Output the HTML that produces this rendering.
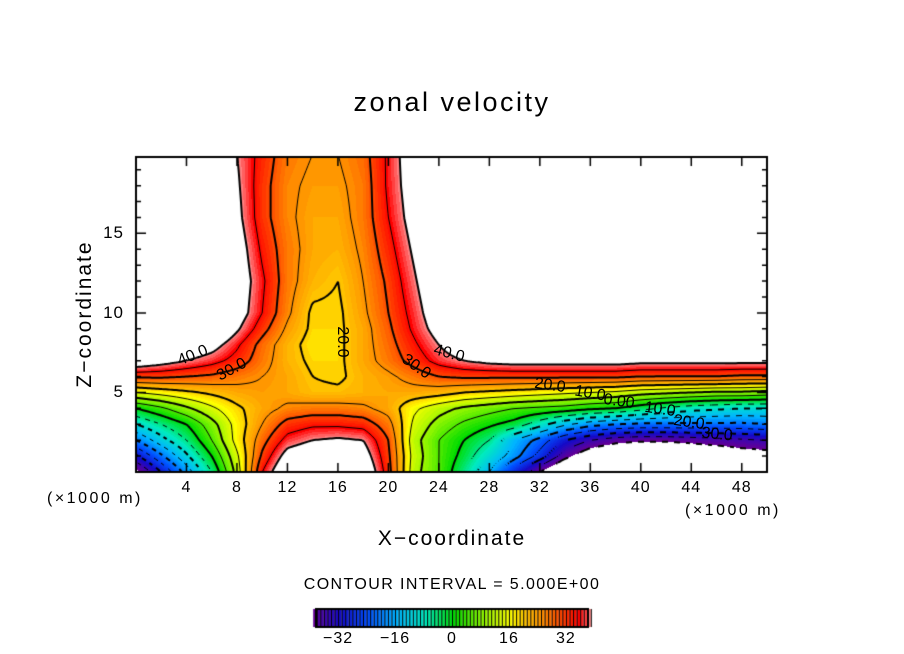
<!DOCTYPE html>
<html><head><meta charset="utf-8">
<style>
html,body{margin:0;padding:0;background:#fff;}
#wrap{position:relative;width:904px;height:654px;overflow:hidden;font-family:"Liberation Sans",sans-serif;color:#000;}
.t{position:absolute;white-space:nowrap;}
canvas{position:absolute;left:0;top:0;}
</style></head><body>
<div id="wrap">
<canvas id="cv" width="904" height="654"></canvas>
<div class="t" style="left:0;width:904px;text-align:center;top:87px;font-size:27px;letter-spacing:2.5px;">zonal velocity</div>
<div class="t" style="left:0;width:904px;text-align:center;top:527px;font-size:21px;letter-spacing:2px;">X−coordinate</div>
<div class="t" style="left:85px;top:314px;font-size:21px;letter-spacing:2px;transform:translate(-50%,-50%) rotate(-90deg);">Z−coordinate</div>
<div class="t" style="left:47px;top:490px;font-size:16px;letter-spacing:2.5px;">(×1000 m)</div>
<div class="t" style="left:685px;top:502px;font-size:16px;letter-spacing:2.5px;">(×1000 m)</div>
<div class="t" style="left:0;width:904px;text-align:center;top:576px;font-size:16px;letter-spacing:1.4px;">CONTOUR INTERVAL = 5.000E+00</div>
<div id="labels"></div>
</div>
<script>
const xs=[0,2,4,6,8,10,12,14,16,18,20,22,24,26,28,30,32,34,36,38,40,42,44,46,48,50];
const zs=[0,1,2,3,4,5,6,7,8,9,10,12,14,16,18,20];
const u_z0=[-42,-30,-18,-5,12,35,48,50,50,48,32,12,5,-5,-15,-28,-40,-50,-52,-52,-52,-52,-52,-50,-47,-45];
const u_z1=[-31,-21,-11,0,14,31,43,46,46,44,31,13,5,-2,-10,-18,-27,-38,-45,-48,-50,-50,-48,-46,-44,-43];
const u_z2=[-20,-12,-5,5,17,28,37,40,41,40,30,12,5,0,-5,-15,-22,-30,-35,-38,-39,-39,-38,-37,-36,-35];
const u_z3=[-10,-5,0,8,17,25,32,34,34,33,27,14,8,4,1,-2,-8,-14,-18,-20,-21,-21,-21,-21,-21,-20];
const u_z4=[0,4,9,14,19,23,26,27,27,26,23,16,12,9,7,5,4,3,1,0,-3,-6,-8,-9,-10,-10];
const u_z5=[15,17,19,21,23,24,23,21,21,22,23,23,22,20,19,18,17,16,15,14,12,11,10,9,9,8];
const u_z6=[31,31,30,29,27,25,23,20,19,22,24,27,30,31,31,31,31,31,31,31,30,30,30,30,29,29];
const u_z7=[46,43,40,37,33,27,22,19,19,23,27,32,37,40,42,43,43,43,43,43,42,42,42,42,42,42];
const u_z8=[55,52,47,43,36,28,22,18,19,23,28,34,40,46,52,55,55,55,55,55,55,55,55,55,55,55];
const u_z9=[55,55,55,50,41,32,24,19,19,23,29,36,43,51,55,55,55,55,55,55,55,55,55,55,55,55];
const u_z10=[55,55,55,55,44,35,26,19,19,24,30,37,45,54,55,55,55,55,55,55,55,55,55,55,55,55];
const u_z12=[55,55,55,55,45,36,27,22,20,25,31,39,47,55,55,55,55,55,55,55,55,55,55,55,55,55];
const u_z14=[55,55,55,55,44,34,27,23,22,26,33,41,49,55,55,55,55,55,55,55,55,55,55,55,55,55];
const u_z16=[55,55,55,55,42,32,26,23,23,27,35,43,51,55,55,55,55,55,55,55,55,55,55,55,55,55];
const u_z18=[55,55,55,55,41,32,26,24,24,27,36,44,52,55,55,55,55,55,55,55,55,55,55,55,55,55];
const u_z20=[55,55,55,55,40,33,27,25,25,28,36,45,52,55,55,55,55,55,55,55,55,55,55,55,55,55];
const rows=[u_z0,u_z1,u_z2,u_z3,u_z4,u_z5,u_z6,u_z7,u_z8,u_z9,u_z10,u_z12,u_z14,u_z16,u_z18,u_z20];
const xTicks=[4,8,12,16,20,24,28,32,36,40,44,48];
const zTicks=[5,10,15];
const cbTicks=[-32,-16,0,16,32];
const contourLabels=[["40.0",4.5,7.3,-22],["30.0",7.6,6.4,-28],["20.0",16.3,8.2,90],["30.0",22.2,6.6,35],["40.0",24.8,7.4,15],["20.0",32.8,5.4,8],["10.0",36,4.9,10],["0.00",38.3,4.4,8],["10.0",41.5,3.9,8],["20.0",43.8,3.1,8],["30.0",46,2.3,6]];

const L=136,T=157,R=767,B=472,X0=0,X1=50,Z0=0,Z1=19.8;
const sx=x=>L+(x-X0)/(X1-X0)*(R-L);
const sz=z=>B-(z-Z0)/(Z1-Z0)*(B-T);
function idx(arr,v){let i=0;while(i<arr.length-2&&v>arr[i+1])i++;return i;}
function field(x,z){
  x=Math.max(0,Math.min(50,x));z=Math.max(0,Math.min(20,z));
  const i=idx(xs,x),j=idx(zs,z);
  const tx=(x-xs[i])/(xs[i+1]-xs[i]),tz=(z-zs[j])/(zs[j+1]-zs[j]);
  const a=rows[j][i],b=rows[j][i+1],c=rows[j+1][i],d=rows[j+1][i+1];
  return (a*(1-tx)+b*tx)*(1-tz)+(c*(1-tx)+d*tx)*tz;
}
const stops=[[-40,[100,0,150]],[-32,[20,10,200]],[-24,[0,80,255]],[-16,[0,180,255]],[-8,[0,235,190]],[0,[0,220,0]],[8,[140,245,0]],[16,[255,255,0]],[20,[255,195,0]],[25,[255,140,0]],[30,[255,70,0]],[35,[255,0,0]],[40,[255,160,160]]];
function col(v){
  if(v<=stops[0][0])return stops[0][1];
  for(let k=0;k<stops.length-1;k++){const a=stops[k],b=stops[k+1];
    if(v<=b[0]){const t=(v-a[0])/(b[0]-a[0]);return a[1].map((c,n)=>Math.round(c+(b[1][n]-c)*t));}}
  return stops[stops.length-1][1];
}
const cv=document.getElementById('cv');const ctx=cv.getContext('2d');
const img=ctx.createImageData(R-L,B-T);
for(let py=0;py<B-T;py++)for(let px=0;px<R-L;px++){
  const x=X0+(px+0.5)/(R-L)*(X1-X0),z=Z1-(py+0.5)/(B-T)*(Z1-Z0);
  let v=field(x,z);const o=(py*(R-L)+px)*4;
  if(v>40||v<-40){img.data[o]=img.data[o+1]=img.data[o+2]=255;}
  else{const c=col(Math.floor(v));img.data[o]=c[0];img.data[o+1]=c[1];img.data[o+2]=c[2];}
  img.data[o+3]=255;
}
ctx.putImageData(img,L,T);
const st=2,nx=Math.ceil((R-L)/st),nz=Math.ceil((B-T)/st);
const G=[];
for(let j=0;j<=nz;j++){G.push([]);for(let i=0;i<=nx;i++){G[j].push(field((i*st)/(R-L)*50,Z1-(j*st)/(B-T)*Z1));}}
ctx.strokeStyle='#000';
for(let lev=-40;lev<=40;lev+=5){
  ctx.lineWidth=(lev%10===0)?2:1;
  ctx.beginPath();
  for(let j=0;j<nz;j++)for(let i=0;i<nx;i++){
    const v=[G[j][i],G[j][i+1],G[j+1][i+1],G[j+1][i]];
    const p=[[i,j],[i+1,j],[i+1,j+1],[i,j+1]];
    const pts=[];
    for(let e=0;e<4;e++){const a=v[e],b=v[(e+1)%4];
      if((a<lev)!==(b<lev)){const t=(lev-a)/(b-a);const A=p[e],Bp=p[(e+1)%4];
        pts.push([L+(A[0]+(Bp[0]-A[0])*t)*st,T+(A[1]+(Bp[1]-A[1])*t)*st]);}}
    if(lev<0&&(Math.floor((i+j)/3)%2===0))continue;
    for(let k=0;k+1<pts.length;k+=2){ctx.moveTo(pts[k][0],pts[k][1]);ctx.lineTo(pts[k+1][0],pts[k+1][1]);}
  }
  ctx.stroke();
}
ctx.fillStyle='#fff';ctx.fillRect(0,0,L,654);ctx.fillRect(R,0,904-R,654);ctx.fillRect(0,B,904,654-B);ctx.fillRect(0,0,904,T);
ctx.lineWidth=2;ctx.strokeRect(L,T,R-L,B-T);
ctx.lineWidth=1.5;ctx.beginPath();
for(let x=4;x<=48;x+=4){const X=sx(x);ctx.moveTo(X,B);ctx.lineTo(X,B-9);ctx.moveTo(X,T);ctx.lineTo(X,T+9);}
for(let z=1;z<=19;z++){const Y=sz(z);const len=z%5===0?10:5;ctx.moveTo(L,Y);ctx.lineTo(L+len,Y);ctx.moveTo(R,Y);ctx.lineTo(R-len,Y);}
ctx.stroke();
const lab=document.getElementById('labels');
function addText(txt,x,y,style,name){const d=document.createElement('div');d.className='t';d.textContent=txt;d.style.cssText=style+';left:'+x+'px;top:'+y+'px';


lab.appendChild(d);}
xTicks.forEach(x=>addText(String(x),sx(x),479,'font-size:16px;letter-spacing:1px;transform:translateX(-50%)','x-tick-label'));
zTicks.forEach(z=>addText(String(z),124,sz(z)-10,'font-size:17px;letter-spacing:1px;transform:translateX(-100%)','z-tick-label'));
contourLabels.forEach(c=>addText(c[0],sx(c[1]),sz(c[2]),'font-size:16px;transform:translate(-50%,-50%) rotate('+c[3]+'deg)','contour-label'));
const cbL=316,cbR=588,cbT=609,cbB=627,cb=v=>452+v*3.56;
for(let v=-40;v<40;v++){const c=col(v);ctx.fillStyle='rgb('+c.join(',')+')';const a=Math.max(cbL,cb(v)),b=Math.min(cbR,cb(v+1));ctx.fillRect(a,cbT,b-a,cbB-cbT);
 if(v>-40){ctx.fillStyle='#000';ctx.fillRect(a,cbT,1,cbB-cbT);}}
ctx.lineWidth=2;ctx.strokeStyle='#000';ctx.strokeRect(cbL,cbT,cbR-cbL,cbB-cbT);
cbTicks.forEach(v=>addText(v<0?'−'+(-v):String(v),cb(v),630,'font-size:16px;letter-spacing:1px;transform:translateX(-50%)','colorbar-tick-label'));
</script>
</body></html>
